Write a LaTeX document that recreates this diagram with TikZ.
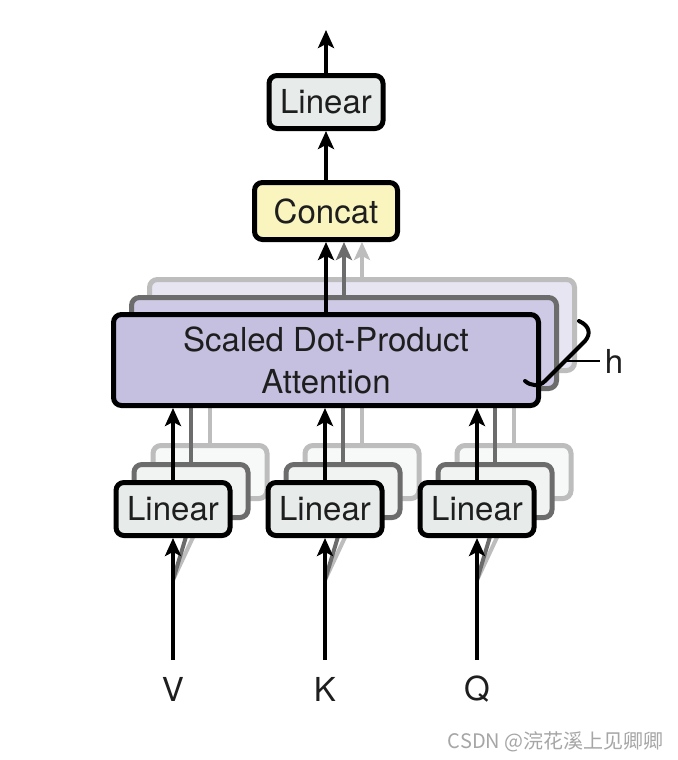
\documentclass[tikz,border=0pt]{standalone}
\usepackage{fontspec}
\setmainfont{TeX Gyre Heros}
\newfontfamily\cjk{Noto Sans CJK SC}
\usetikzlibrary{positioning,arrows.meta,calc}
\definecolor{MHAlin}{HTML}{E7EBEA}
\definecolor{MHAcat}{HTML}{FAF5BF}
\definecolor{MHAatt}{HTML}{C5BFE0}
\definecolor{MHAink}{HTML}{1E1E1E}
\definecolor{MHAgrayA}{HTML}{6C6C6C}
\definecolor{MHAgrayB}{HTML}{BDBDBD}
\definecolor{MHAmark}{HTML}{A6A6A6}
\newcommand{\boxfont}{\fontsize{16.5}{21}\selectfont}
\tikzset{
  linbox/.style={rounded corners=4pt, draw=black, fill=MHAlin, line width=2.5pt, minimum width=57pt, minimum height=26.5pt, font=\boxfont, text=MHAink, inner sep=0pt},
  catbox/.style={linbox, fill=MHAcat, minimum width=71.5pt, minimum height=28.5pt},
  attbox/.style={linbox, fill=MHAatt, minimum width=212.5pt, minimum height=45.5pt, align=center},
  layertwo/.style={draw=MHAgrayA, fill=#1},
  layerthree/.style={draw=MHAgrayB, fill=#1},
  flowarr/.style={-{Stealth[length=9pt,width=8pt,inset=2pt]}, line width=2pt},
  feedtwo/.style={line width=2pt, draw=MHAgrayA},
  feedthree/.style={line width=2pt, draw=MHAgrayB},
  inlabel/.style={font=\boxfont, text=MHAink, inner sep=2pt},
  wmark/.style={font=\cjk\fontsize{10}{12}\selectfont, text=MHAmark, inner sep=0pt}
}
\pgfdeclarelayer{bg}
\pgfsetlayers{bg,main}

\begin{document}
\begin{tikzpicture}[x=0.5pt,y=-0.5pt]
\begin{pgfonlayer}{bg}
\fill[white] (0,0) rectangle (678,760);
\end{pgfonlayer}
\useasboundingbox (0,0) rectangle (678,760);

% output part
\node[linbox] (lintop) at (326,102) {Linear};
\node[catbox] (concat) at (326,211) {Concat};
\coordinate (out) at (326,30);
\draw[flowarr] (lintop) -- (out);
\draw[flowarr] (concat) -- (lintop);

% h stacked attention heads
\node[attbox, layerthree=MHAatt!40] (att3) at (362,325) {};
\draw[flowarr, color=MHAgrayB] (att3.north) -- (att3.north |- concat.south);
\node[attbox, layertwo=MHAatt!85] (att2) at (344,343) {};
\draw[flowarr, color=MHAgrayA] (att2.north) -- (att2.north |- concat.south);
\node[attbox] (att) at (326,360) {Scaled Dot-Product\\Attention};
\draw[flowarr] (att) -- (concat);

% brace for h
\draw[line width=2pt, line cap=round] (579,321) .. controls (590,326) and (591,334) .. (585,341)
  -- (545,381) .. controls (539,387) and (531,386) .. (525,381);
\coordinate (hook) at (565,361);
\node[inlabel] (hlab) at (614,361) {h};
\draw[line width=1pt] (hook) -- (hlab.west);

% projections of V, K, Q
\begin{pgfonlayer}{bg}
\foreach \n/\x in {v/173,k/325,q/477}{
  \node[linbox, layerthree=MHAlin!35] (lin\n3) at (\x+37,472) {};
  \draw[feedthree] (lin\n3.north) -- (lin\n3.north |- att.south);
}
\foreach \n/\x in {v/173,k/325,q/477}{
  \node[linbox, layertwo=MHAlin!60] (lin\n2) at (\x+18,491) {};
  \draw[feedtwo] (lin\n2.north) -- (lin\n2.north |- att.south);
  \coordinate (split\n) at (\x,580);
  \draw[feedthree] (split\n) -- (lin\n3.south);
  \draw[feedtwo] (split\n) -- (lin\n2.south);
}
\end{pgfonlayer}

\foreach \n/\x/\lab in {v/173/V,k/325/K,q/477/Q}{
  \node[linbox] (lin\n) at (\x,509) {Linear};
  \coordinate (in\n) at (\x,660);
  \node[inlabel] (lab\n) at (\x,689) {\lab};
  \draw[flowarr] (in\n) -- (lin\n);
  \draw[flowarr] (lin\n) -- (lin\n |- att.south);
}

\node[wmark, anchor=east] (wm) at (664,742) {CSDN @浣花溪上见卿卿};
\end{tikzpicture}
\end{document}
